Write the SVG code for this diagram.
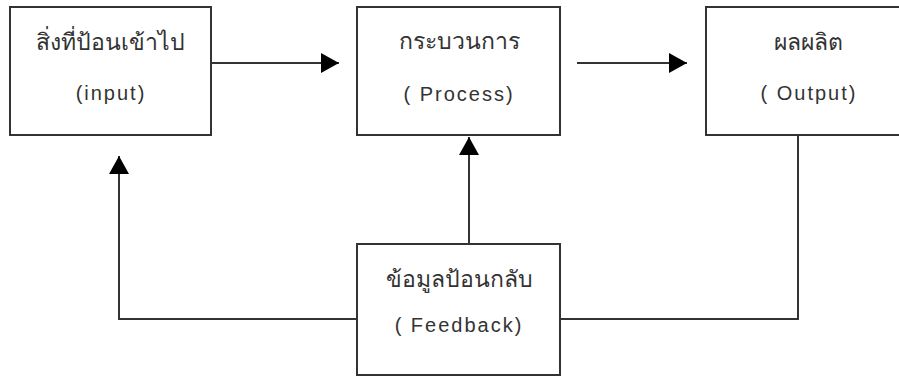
<svg xmlns="http://www.w3.org/2000/svg" width="899" height="376" viewBox="0 0 899 376">
<style>
.box{fill:#fff;stroke:#333;stroke-width:2}
.ln{fill:none;stroke:#333;stroke-width:2}
.th{font-family:"Liberation Sans","DejaVu Sans","Noto Sans",sans-serif;font-size:23px;fill:#333;text-anchor:middle}
.en{font-family:"Liberation Sans",Arial,sans-serif;font-size:20px;letter-spacing:2px;fill:#333;text-anchor:middle}
</style>
<defs>
<marker id="ah" viewBox="0 0 18 20" refX="18" refY="10" markerWidth="18" markerHeight="20" markerUnits="userSpaceOnUse" orient="auto">
<path d="M0,0 L18,10 L0,20 Z" fill="#000"/>
</marker>
</defs>
<rect width="899" height="376" fill="#fff"/>
<g id="connectors">
<path class="ln" d="M211,63 H339" marker-end="url(#ah)"/>
<path class="ln" d="M577,63 H687" marker-end="url(#ah)"/>
<path class="ln" d="M469,244 V137" marker-end="url(#ah)"/>
<path class="ln" d="M357,319 H119 V156" marker-end="url(#ah)"/>
<path class="ln" d="M560,319 H798 V135"/>
</g>
<g id="input">
<rect class="box" x="10" y="7" width="201" height="128"/>
<text class="th" x="110" y="50">สิ่งที่ป้อนเข้าไป</text>
<text class="en" x="111" y="100">(input)</text>
</g>
<g id="process">
<rect class="box" x="357" y="7" width="203" height="128"/>
<text class="th" x="459" y="49">กระบวนการ</text>
<text class="en" x="459" y="101">( Process)</text>
</g>
<g id="output">
<rect class="box" x="706" y="7" width="210" height="128"/>
<text class="th" x="808" y="50">ผลผลิต</text>
<text class="en" x="809" y="100">( Output)</text>
</g>
<g id="feedback">
<rect class="box" x="357" y="244" width="203" height="131"/>
<text class="th" x="459" y="287">ข้อมูลป้อนกลับ</text>
<text class="en" x="459" y="332">( Feedback)</text>
</g>
</svg>
